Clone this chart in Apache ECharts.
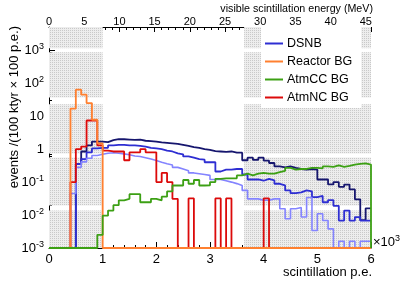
<!DOCTYPE html>
<html><head><meta charset="utf-8">
<script src="https://cdn.jsdelivr.net/npm/echarts@6/dist/echarts.min.js"></script>
<style>html,body{margin:0;padding:0;background:#fff}#c{width:415px;height:281px}</style>
</head><body><div id="c"></div>
<script>
// ---- data: 60 bins of 100 p.e. from 0 to 6000 p.e. (0 = empty bin) ----
const binWidth = 100;
const binLow = 0;
const dsnbHigh = [0,0,0,0,0,0.35,0.85,1.3,1.7,1.7, 1.63,1.87,2.0,2.0,1.95,1.9,1.95,1.8,1.75,1.7,
  1.6,1.55,1.5,1.45,1.35,1.25,1.15,1.1,1.0,0.95, 0.87,0.85,0.83,0.85,0.78,0.78,0.46,0.55,0.47,0.55,
  0.45,0.38,0.3,0.28,0.3,0.27,0.25,0.24,0.25,0.24, 0.12,0.12,0.085,0.1,0.072,0.084,0.06,0.03,0.007,0.016];
const dsnb = [0,0,0,0,0,0.35,0.5,0.8,1.05,1.1, 1.1,1.3,1.35,1.35,1.3,1.3,1.25,1.2,1.1,1.05,
  1.0,0.9,0.85,0.75,0.7,0.6,0.55,0.5,0.48,0.4, 0.4,0.21,0.24,0.24,0.25,0.25,0.17,0.12,0.12,0.11,
  0.126,0.113,0.089,0.079,0.056,0.046,0.049,0.056,0.052,0.035, 0.038,0.0245,0.0285,0.019,0.0068,0.0137,0.0068,0.0087,0.0068,0.0068];
const dsnbLow = [0,0,0,0,0.045,0.28,0.41,0.53,0.64,0.7, 0.75,0.78,0.75,0.72,0.68,0.62,0.6,0.55,0.5,0.45,
  0.4,0.36,0.33,0.28,0.25,0.22,0.19,0.18,0.17,0.16, 0.12,0.12,0.11,0.1,0.09,0.079,0.056,0.031,0.031,0.028,
  0.028,0.031,0.031,0.0155,0.0077,0.0155,0.017,0.0087,0.034,0.0034, 0.011,0.0068,0.0038,0,0.0016,0,0.0016,0,0.0016,0.0016];
const reactorBG = [0,0,0,0,17,64,45,25,7.8,1.5, 0,0,0,0,0,0,0,0,0,0,
  0,0,0,0,0,0,0,0,0,0, 0,0,0,0,0,0,0,0,0,0, 0,0,0,0,0,0,0,0,0,0, 0,0,0,0,0,0,0,0,0,0];
const atmCC = [0,0,0,0,0,0,0,0,0,0.0025, 0.0096,0.0137,0.02,0.028,0.031,0.043,0.043,0.0245,0.0245,0.031,
  0.028,0.036,0.052,0.079,0.079,0.116,0.089,0.116,0.079,0.08, 0.1,0.126,0.13,0.13,0.13,0.16,0.18,0.16,0.18,0.19,
  0.18,0.18,0.2,0.22,0.27,0.24,0.25,0.25,0.27,0.27, 0.26,0.3,0.29,0.32,0.29,0.31,0.34,0.36,0.37,0.34];
const atmNC = [0,0,0,0,0.1,1.0,1.2,7.4,7.4,1.3, 0.9,0.85,0.85,0.85,0.46,0.8,0.8,1.0,0.8,0.8,
  0.1,0.19,0.1,0.031,0,0,0.032,0,0,0, 0,0.032,0,0.032,0,0,0,0,0,0,
  0.032,0,0,0,0,0,0,0,0,0, 0,0,0,0,0,0,0,0,0,0];
const xTicks = [0,1,2,3,4,5,6];             // ×10^3 p.e.
const yTickExp = [-3,-2,-1,0,1,2,3];        // 10^n
const legendNames = ['DSNB','Reactor BG','AtmCC BG','AtmNC BG'];
const shadeX = [[0,1000],[3636,6000]];      // grey shaded p.e. ranges
const shadeY = [[0.001,0.0137],[0.0195,0.56],[0.74,22.9],[37.2,869],[1150,5100]];

const Y_MIN = 0.001, Y_MAX = 5100, X_MAX = 6000, MEV_MAX = 45.73;

function toSteps(vals, dropEnd){
  const pts = vals.map((v,i)=>[binLow + i*binWidth, v>0 ? v : Y_MIN]);
  const last = vals[vals.length-1];
  pts.push([binLow + vals.length*binWidth, last>0 ? last : Y_MIN]);
  if (dropEnd) pts.push([binLow + vals.length*binWidth, Y_MIN]);
  return pts;
}

// dotted grey pattern
const pc = document.createElement('canvas'); pc.width = 2; pc.height = 2;
const pctx = pc.getContext('2d');
pctx.fillStyle = '#ededed'; pctx.fillRect(0,0,2,2);
pctx.fillStyle = '#c9c9c9'; pctx.fillRect(0,0,1,1);

const areas = [];
shadeX.forEach(xr => shadeY.forEach(yr => areas.push([{coord:[xr[0], yr[0]]},{coord:[xr[1], yr[1]]}])));

const FONT = 'Liberation Sans';
const supRich = {
  b:{fontFamily:FONT,fontSize:13,color:'#000',lineHeight:16},
  s:{fontFamily:FONT,fontSize:9,color:'#000',lineHeight:9,verticalAlign:'top'}
};
function yLabel(v){
  const l = Math.log10(v), n = Math.round(l);
  if (Math.abs(l - n) > 1e-6 || yTickExp.indexOf(n) < 0) return '';
  if (n === 0) return '{b|1}';
  if (n === 1) return '{b|10}';
  return '{b|10}{s|' + n + '}';
}

function line(name, vals, color, width, dropEnd){
  return {name, type:'line', data: toSteps(vals, dropEnd), step:'end', showSymbol:false, symbol:'none',
    clip:false, lineStyle:{color, width}, itemStyle:{color}, silent:true, animation:false, z:3};
}

const chart = echarts.init(document.getElementById('c'), null, {renderer:'canvas'});
chart.setOption({
  animation:false,
  grid:{left:49, top:27, width:322, height:221, containLabel:false},
  xAxis:[{
    type:'value', min:0, max:X_MAX, interval:1000, position:'bottom',
    axisLine:{show:true, onZero:false, lineStyle:{color:'#000', width:1}},
    axisTick:{show:true, inside:true, length:6, lineStyle:{color:'#000'}},
    minorTick:{show:true, splitNumber:5, length:3, lineStyle:{color:'#000'}},
    splitLine:{show:false},
    axisLabel:{fontFamily:FONT, fontSize:13, color:'#000', margin:5,
      formatter:v=>{ const t = v/1000; return xTicks.indexOf(t) >= 0 ? String(t) : ''; }}
  },{
    type:'value', min:0, max:MEV_MAX, interval:5, position:'top',
    axisLine:{show:true, onZero:false, lineStyle:{color:'#000', width:1}},
    axisTick:{show:true, inside:true, length:5, lineStyle:{color:'#000'}},
    minorTick:{show:true, splitNumber:5, length:3, lineStyle:{color:'#000'}},
    splitLine:{show:false},
    axisLabel:{fontFamily:FONT, fontSize:11, color:'#000', margin:0}
  }],
  yAxis:{
    type:'log', logBase:10, min:Y_MIN, max:Y_MAX,
    axisLine:{show:true, onZero:false, lineStyle:{color:'#000', width:1}},
    axisTick:{show:true, inside:true, length:6, lineStyle:{color:'#000'}},
    minorTick:{show:true, splitNumber:9, length:3, lineStyle:{color:'#000'}},
    splitLine:{show:false},
    axisLabel:{margin:5, formatter:yLabel, rich:supRich}
  },
  legend:{
    data:legendNames, orient:'vertical', left:261, top:27, icon:'rect',
    itemWidth:18, itemHeight:2, itemGap:5, padding:[10,9,4,4],
    backgroundColor:'#fff', selectedMode:false,
    textStyle:{fontFamily:FONT, fontSize:12.5, color:'#000', padding:[0,0,0,-1], lineHeight:12}
  },
  graphic:[
    {type:'text', x:373, y:242, style:{text:'{b|×10}{s|3}', rich:supRich, align:'left', verticalAlign:'middle'}},
    {type:'text', x:372, y:272, style:{text:'scintillation p.e.', fontFamily:FONT, fontSize:13, fill:'#000', align:'right', verticalAlign:'middle'}},
    {type:'text', x:373, y:9.5, style:{text:'visible scintillation energy (MeV)', fontFamily:FONT, fontSize:10.7, fill:'#000', align:'right', verticalAlign:'middle'}},
    {type:'text', x:14.5, y:26, rotation:Math.PI/2, style:{text:'events /(100 ktyr × 100 p.e.)', fontFamily:FONT, fontSize:13, fill:'#000', align:'right', verticalAlign:'middle'}}
  ],
  series:[
    {name:'shade', type:'line', data:[], silent:true, z:1,
      markArea:{silent:true, itemStyle:{color:{image:pc, repeat:'repeat'}, borderWidth:0}, data:areas}},
    line('DSNB high', dsnbHigh, '#16166e', 1.8),
    line('DSNB', dsnb, '#2e2ed2', 1.8),
    line('DSNB low', dsnbLow, '#8484ff', 1.6),
    line('AtmNC BG', atmNC, '#dc0a0a', 1.8),
    line('Reactor BG', reactorBG, '#ff8030', 1.8),
    line('AtmCC BG', atmCC, '#3ca014', 1.8, true)
  ]
});
</script></body></html>
